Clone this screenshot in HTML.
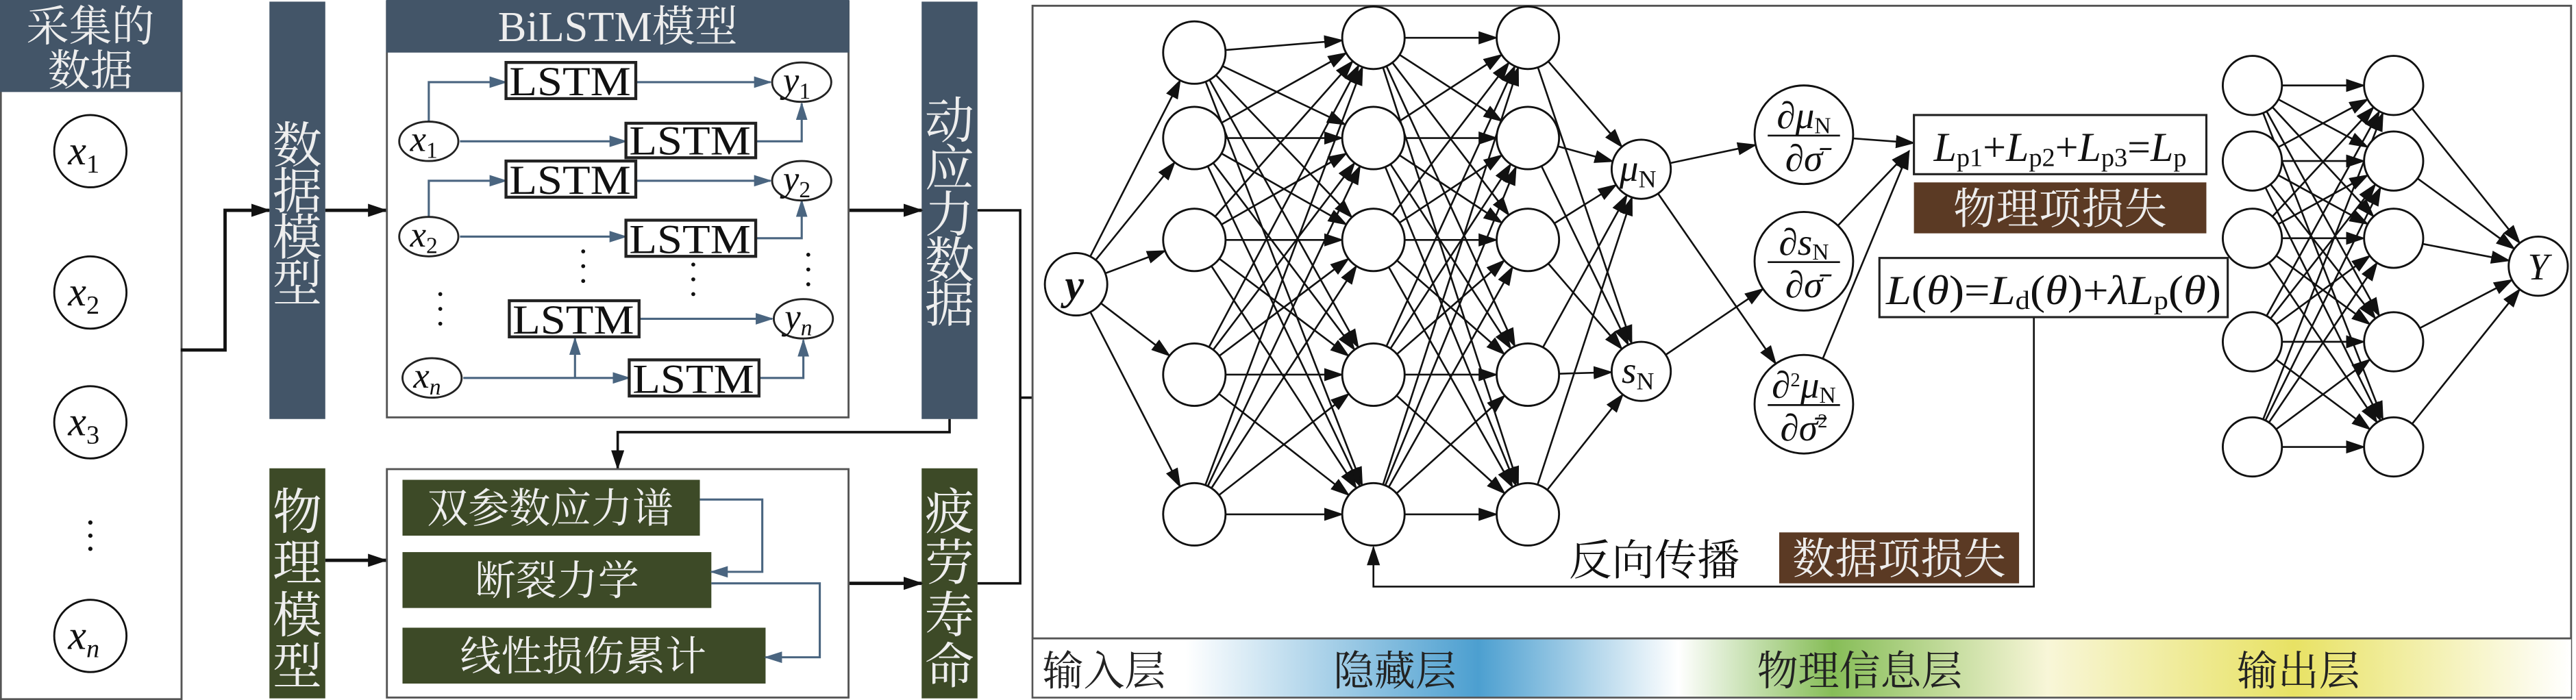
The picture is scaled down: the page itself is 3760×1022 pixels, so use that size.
<!DOCTYPE html>
<html><head><meta charset="utf-8"><style>
html,body{margin:0;padding:0;background:#fff;}
svg{display:block;}
.cn{font-family:"Liberation Serif","Noto Serif CJK SC","Noto Sans CJK SC",serif;}
.sf{font-family:"Liberation Serif","DejaVu Serif",serif;}
</style></head><body>
<svg id="s" width="3760" height="1022" viewBox="0 0 1568 426" preserveAspectRatio="none" xmlns="http://www.w3.org/2000/svg">
<defs>
<marker id="ab" markerUnits="userSpaceOnUse" markerWidth="12" markerHeight="8" refX="11" refY="4" orient="auto"><path d="M0,0 L12,4 L0,8 z" fill="#111"/></marker>
<marker id="as" markerUnits="userSpaceOnUse" markerWidth="11" markerHeight="7" refX="10" refY="3.5" orient="auto"><path d="M0,0 L11,3.5 L0,7 z" fill="#4a6580"/></marker>
<linearGradient id="gr" x1="628" x2="1565" y1="0" y2="0" gradientUnits="userSpaceOnUse">
<stop offset="0" stop-color="#fff"/><stop offset="0.1" stop-color="#fff"/>
<stop offset="0.29" stop-color="#4c9fd0"/><stop offset="0.42" stop-color="#fff"/>
<stop offset="0.52" stop-color="#86bd57"/><stop offset="0.66" stop-color="#f8f6d8"/>
<stop offset="0.82" stop-color="#e8e264"/><stop offset="1" stop-color="#fff"/>
</linearGradient>
</defs>

<!-- Left panel -->
<rect x="0.5" y="0.5" width="110" height="425" fill="#fff" stroke="#555" stroke-width="1.2"/>
<rect x="0" y="0" width="111" height="56" fill="#435568"/>
<text x="55" y="25" class="cn" font-size="26" fill="#eee" text-anchor="middle">采集的</text>
<text x="55" y="52" class="cn" font-size="26" fill="#eee" text-anchor="middle">数据</text>
<g fill="#fff" stroke="#111" stroke-width="1.2">
<circle cx="55" cy="92" r="22"/><circle cx="55" cy="178" r="22"/><circle cx="55" cy="257" r="22"/><circle cx="55" cy="387" r="22"/>
</g>
<g class="sf" font-size="25" font-style="italic" fill="#111" text-anchor="middle">
<text x="51" y="100">x<tspan font-size="16" font-style="normal" dy="5">1</tspan></text>
<text x="51" y="186">x<tspan font-size="16" font-style="normal" dy="5">2</tspan></text>
<text x="51" y="265">x<tspan font-size="16" font-style="normal" dy="5">3</tspan></text>
<text x="51" y="395">x<tspan font-size="16" dy="5">n</tspan></text>
</g>
<g fill="#111"><circle cx="55" cy="318" r="1.3"/><circle cx="55" cy="326" r="1.3"/><circle cx="55" cy="334" r="1.3"/></g>
<polyline points="110,213 137,213 137,128 164,128" fill="none" stroke="#111" stroke-width="2" marker-end="url(#ab)"/>

<!-- vertical bars -->
<rect x="164" y="1" width="34" height="254" fill="#435568"/>
<g class="cn" font-size="30" fill="#eee" text-anchor="middle">
<text x="181" y="99">数</text><text x="181" y="127">据</text><text x="181" y="155">模</text><text x="181" y="183">型</text>
</g>
<rect x="164" y="285" width="34" height="140" fill="#3d4a27"/>
<g class="cn" font-size="30" fill="#eee" text-anchor="middle">
<text x="181" y="322">物</text><text x="181" y="353">理</text><text x="181" y="385">模</text><text x="181" y="416">型</text>
</g>
<rect x="561" y="1" width="34" height="254" fill="#435568"/>
<g class="cn" font-size="30" fill="#eee" text-anchor="middle">
<text x="578" y="84">动</text><text x="578" y="113">应</text><text x="578" y="141">力</text><text x="578" y="169">数</text><text x="578" y="196">据</text>
</g>
<rect x="561" y="285" width="34" height="140" fill="#3d4a27"/>
<g class="cn" font-size="30" fill="#eee" text-anchor="middle">
<text x="578" y="322">疲</text><text x="578" y="353">劳</text><text x="578" y="385">寿</text><text x="578" y="416">命</text>
</g>

<line x1="198" y1="128" x2="235" y2="128" stroke="#111" stroke-width="2" marker-end="url(#ab)"/>
<line x1="198" y1="341" x2="235" y2="341" stroke="#111" stroke-width="2" marker-end="url(#ab)"/>
<line x1="517" y1="128" x2="561" y2="128" stroke="#111" stroke-width="2" marker-end="url(#ab)"/>
<line x1="517" y1="355" x2="561" y2="355" stroke="#111" stroke-width="2" marker-end="url(#ab)"/>
<polyline points="578,255 578,263 376,263 376,285" fill="none" stroke="#111" stroke-width="1.5" marker-end="url(#ab)"/>
<polyline points="595,128 621,128 621,355 595,355" fill="none" stroke="#111" stroke-width="1.5"/>
<polyline points="621,242 655,242 655,192" fill="none" stroke="#111" stroke-width="1.5" marker-end="url(#ab)"/>

<!-- BiLSTM box -->
<rect x="235.5" y="1" width="281" height="253" fill="#fff" stroke="#555" stroke-width="1.2"/>
<rect x="235" y="0" width="282" height="32" fill="#435568"/>
<text x="376" y="25" class="cn" font-size="26" fill="#eee" text-anchor="middle">BiLSTM模型</text>
<g fill="none" stroke="#4a6580" stroke-width="1.3" marker-end="url(#as)">
<polyline points="261,74 261,50 308,50"/>
<line x1="280" y1="86" x2="381" y2="86"/>
<line x1="387" y1="50" x2="469" y2="50"/>
<polyline points="460,86 488,86 488,63"/>
<polyline points="261,132 261,110 308,110"/>
<line x1="280" y1="144" x2="381" y2="144"/>
<line x1="387" y1="110" x2="469" y2="110"/>
<polyline points="460,145 488,145 488,122"/>
<line x1="389" y1="194" x2="470" y2="194"/>
<line x1="282" y1="230" x2="383" y2="230"/>
<polyline points="350,230 350,206"/>
<polyline points="462,230 489,230 489,207"/>
</g>
<g fill="#fff" stroke="#222" stroke-width="1.8">
<rect x="308" y="38" width="79" height="22"/><rect x="381" y="75" width="79" height="21"/>
<rect x="308" y="98" width="79" height="22"/><rect x="381" y="134" width="79" height="22"/>
<rect x="310" y="183" width="79" height="22"/><rect x="383" y="219" width="79" height="22"/>
</g>
<g class="sf" font-size="25" fill="#111" text-anchor="middle" textLength="74">
<text x="347" y="58" textLength="74" lengthAdjust="spacingAndGlyphs">LSTM</text><text x="420" y="94" textLength="74" lengthAdjust="spacingAndGlyphs">LSTM</text><text x="347" y="118" textLength="74" lengthAdjust="spacingAndGlyphs">LSTM</text>
<text x="420" y="154" textLength="74" lengthAdjust="spacingAndGlyphs">LSTM</text><text x="349" y="203" textLength="74" lengthAdjust="spacingAndGlyphs">LSTM</text><text x="422" y="239" textLength="74" lengthAdjust="spacingAndGlyphs">LSTM</text>
</g>
<g fill="#fff" stroke="#222" stroke-width="1.2">
<ellipse cx="261" cy="86" rx="18" ry="12"/><ellipse cx="261" cy="144" rx="18" ry="12"/><ellipse cx="263" cy="230" rx="18" ry="12"/>
<ellipse cx="488" cy="50" rx="18" ry="12"/><ellipse cx="488" cy="110" rx="18" ry="12"/><ellipse cx="489" cy="194" rx="18" ry="12"/>
</g>
<g class="sf" font-size="22" font-style="italic" fill="#111" text-anchor="middle">
<text x="258" y="92">x<tspan font-size="14" font-style="normal" dy="4">1</tspan></text>
<text x="258" y="150">x<tspan font-size="14" font-style="normal" dy="4">2</tspan></text>
<text x="260" y="236">x<tspan font-size="14" dy="4">n</tspan></text>
<text x="485" y="56">y<tspan font-size="14" font-style="normal" dy="4">1</tspan></text>
<text x="485" y="116">y<tspan font-size="14" font-style="normal" dy="4">2</tspan></text>
<text x="486" y="200">y<tspan font-size="14" dy="4">n</tspan></text>
</g>
<g fill="#111">
<circle cx="355" cy="153" r="1.2"/><circle cx="355" cy="162" r="1.2"/><circle cx="355" cy="171" r="1.2"/>
<circle cx="422" cy="161" r="1.2"/><circle cx="422" cy="170" r="1.2"/><circle cx="422" cy="179" r="1.2"/>
<circle cx="492" cy="155" r="1.2"/><circle cx="492" cy="164" r="1.2"/><circle cx="492" cy="173" r="1.2"/>
<circle cx="268" cy="179" r="1.2"/><circle cx="268" cy="188" r="1.2"/><circle cx="268" cy="197" r="1.2"/>
</g>

<!-- physics box -->
<rect x="235.5" y="285.5" width="281" height="139" fill="#fff" stroke="#555" stroke-width="1.2"/>
<rect x="245" y="292" width="181" height="34" fill="#3d4a27"/>
<rect x="245" y="336" width="188" height="34" fill="#3d4a27"/>
<rect x="245" y="382" width="221" height="34" fill="#3d4a27"/>
<g class="cn" font-size="25" fill="#eee" text-anchor="middle">
<text x="335" y="318">双参数应力谱</text><text x="339" y="362">断裂力学</text><text x="355" y="408">线性损伤累计</text>
</g>
<g fill="none" stroke="#4a6580" stroke-width="1.3" marker-end="url(#as)">
<polyline points="426,304 464,304 464,348 433,348"/>
<polyline points="433,355 499,355 499,400 466,400"/>
</g>

<!-- right panel -->
<rect x="628.5" y="3.5" width="936.5" height="421" fill="#fff" stroke="#555" stroke-width="1.2"/>
<rect x="629" y="389" width="936" height="35" fill="url(#gr)"/>
<line x1="628" y1="388.5" x2="1565" y2="388.5" stroke="#555" stroke-width="1.2"/>
<g class="cn" font-size="25" fill="#222" text-anchor="middle">
<text x="672" y="417">输入层</text><text x="849" y="417">隐藏层</text><text x="1132" y="417">物理信息层</text><text x="1399" y="417">输出层</text>
</g>

<g id="net" stroke="#111" stroke-width="1.1" fill="none"></g>
<g id="nodes" fill="#fff" stroke="#111" stroke-width="1.2"></g>

<!-- backprop -->
<polyline points="1238,193 1238,357 836,357 836,333" fill="none" stroke="#111" stroke-width="1.1" marker-end="url(#ab)"/>
<text x="955" y="350" class="cn" font-size="26" fill="#111">反向传播</text>
<rect x="1083" y="324" width="146" height="31" fill="#5b3a24"/>
<text x="1156" y="349" class="cn" font-size="26" fill="#eee" text-anchor="middle">数据项损失</text>

<rect x="1165" y="70" width="178" height="36" fill="#fff" stroke="#222" stroke-width="1.3"/>
<text x="1254" y="98" class="sf" font-size="25" fill="#111" text-anchor="middle"><tspan font-style="italic">L</tspan><tspan font-size="16" dy="3">p1</tspan><tspan dy="-3">+</tspan><tspan font-style="italic">L</tspan><tspan font-size="16" dy="3">p2</tspan><tspan dy="-3">+</tspan><tspan font-style="italic">L</tspan><tspan font-size="16" dy="3">p3</tspan><tspan dy="-3">=</tspan><tspan font-style="italic">L</tspan><tspan font-size="16" dy="3">p</tspan></text>
<rect x="1165" y="111" width="178" height="31" fill="#5b3a24"/>
<text x="1254" y="136" class="cn" font-size="26" fill="#eee" text-anchor="middle">物理项损失</text>
<rect x="1144" y="157" width="212" height="36" fill="#fff" stroke="#222" stroke-width="1.3"/>
<text x="1250" y="185" class="sf" font-size="25" fill="#111" text-anchor="middle" textLength="204" lengthAdjust="spacingAndGlyphs"><tspan font-style="italic">L</tspan>(<tspan font-style="italic">θ</tspan>)=<tspan font-style="italic">L</tspan><tspan font-size="16" dy="3">d</tspan><tspan dy="-3">(</tspan><tspan font-style="italic">θ</tspan>)+<tspan font-style="italic">λL</tspan><tspan font-size="16" dy="3">p</tspan><tspan dy="-3">(</tspan><tspan font-style="italic">θ</tspan>)</text>

<g id="labels" class="sf" fill="#111"></g>
</svg>
<script>
var NS="http://www.w3.org/2000/svg";
var net=document.getElementById('net'),nodes=document.getElementById('nodes'),lab=document.getElementById('labels');
function el(t,a,p){var e=document.createElementNS(NS,t);for(var k in a)e.setAttribute(k,a[k]);p.appendChild(e);return e;}
function conn(a,b){var dx=b[0]-a[0],dy=b[1]-a[1],d=Math.sqrt(dx*dx+dy*dy);var ux=dx/d,uy=dy/d;
el('line',{x1:a[0]+ux*a[2],y1:a[1]+uy*a[2],x2:b[0]-ux*b[2],y2:b[1]-uy*b[2],'marker-end':'url(#ab)'},net);}
var Y=[655,173,19];
var L1=[32,84,146,228,313].map(function(y){return [727,y,19]});
var L2=[23,84,146,228,313].map(function(y){return [836,y,19]});
var L3=[23,84,146,228,313].map(function(y){return [930,y,19]});
var MU=[999,103,18],SN=[999,226,18];
var D=[[1098,82,30],[1098,159,30],[1098,246,30]];
var A=[52,98,145,208,272].map(function(y){return [1371,y,18]});
var B=[52,98,145,208,272].map(function(y){return [1457,y,18]});
var YY=[1545,162,18];
L1.forEach(function(n){conn(Y,n)});
L1.forEach(function(a){L2.forEach(function(b){conn(a,b)})});
L2.forEach(function(a){L3.forEach(function(b){conn(a,b)})});
L3.forEach(function(a){conn(a,MU);conn(a,SN)});
conn(MU,D[0]);conn(MU,D[2]);conn(SN,D[1]);
conn(D[0],[1165,87,0]);conn(D[1],[1162,92,0]);conn(D[2],[1162,92,0]);
A.forEach(function(a){B.forEach(function(b){conn(a,b)})});
B.forEach(function(b){conn(b,YY)});
[Y].concat(L1,L2,L3,[MU,SN],D,A,B,[YY]).forEach(function(n){el('circle',{cx:n[0],cy:n[1],r:n[2]},nodes)});
function txt(x,y,s,h){var t=el('text',{x:x,y:y,'text-anchor':'middle','font-size':s},lab);t.innerHTML=h;return t;}
txt(654,182,26,'<tspan font-style="italic" font-weight="bold">y</tspan>');
txt(997,110,23,'<tspan font-style="italic">μ</tspan><tspan font-size="15" dy="4">N</tspan>');
txt(997,233,23,'<tspan font-style="italic">s</tspan><tspan font-size="15" dy="4">N</tspan>');
var tops=['∂<tspan font-style="italic">μ</tspan><tspan font-size="14" dy="3">N</tspan>','∂<tspan font-style="italic">s</tspan><tspan font-size="14" dy="3">N</tspan>','∂<tspan font-size="12" dy="-7">2</tspan><tspan font-style="italic" dy="7">μ</tspan><tspan font-size="14" dy="3">N</tspan>'];
var bots=['∂<tspan font-style="italic">σ̄</tspan>','∂<tspan font-style="italic">σ̄</tspan>','∂<tspan font-style="italic">σ̄</tspan><tspan font-size="12" dy="-8">2</tspan>'];
D.forEach(function(d,i){txt(d[0],d[1]-4,23,tops[i]);el('line',{x1:d[0]-22,y1:d[1]+0.5,x2:d[0]+22,y2:d[1]+0.5,stroke:'#111','stroke-width':1.1},lab);txt(d[0],d[1]+22,23,bots[i]);});
txt(1545,170,23,'<tspan font-style="italic">Y</tspan>');
</script>
</body></html>
